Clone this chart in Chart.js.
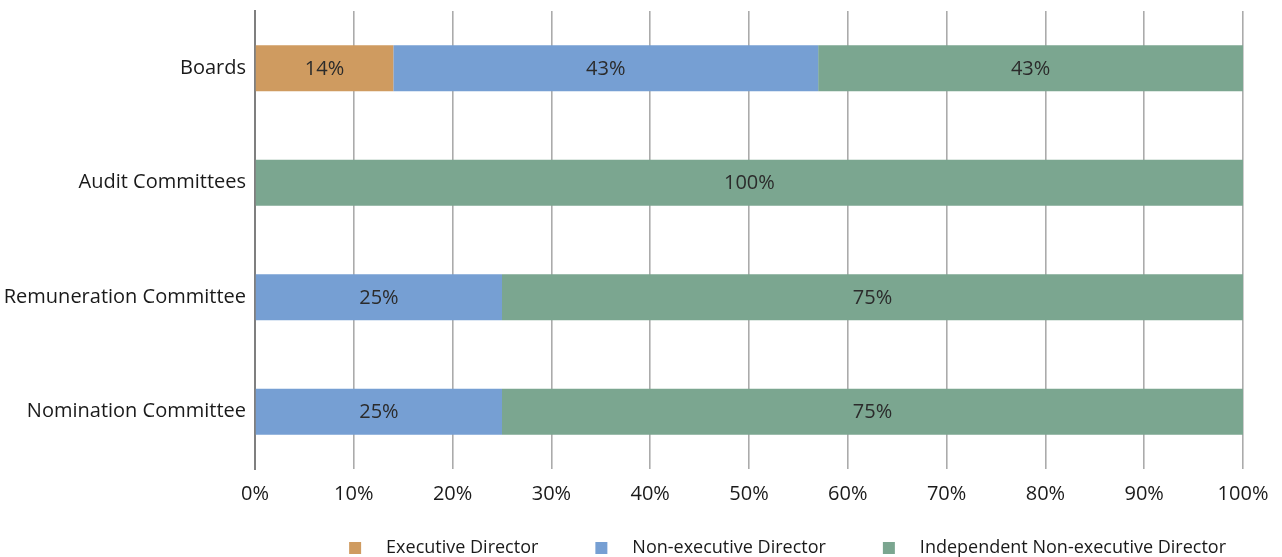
<!DOCTYPE html>
<html>
<head>
<meta charset="utf-8">
<script src="https://cdn.jsdelivr.net/npm/chart.js@4"></script>
<style>
  html, body { margin: 0; padding: 0; background: #fff; }
  #wrap { width: 1282px; height: 557px; }
</style>
</head>
<body>
<div id="wrap"><canvas id="myChart"></canvas></div>
<script>
// categories and series (percent of members)
const categories = ['Boards', 'Audit Committees', 'Remuneration Committee', 'Nomination Committee'];
const executiveDirector = [14, 0, 0, 0];
const nonExecutiveDirector = [43, 0, 25, 25];
const independentNonExecutive = [43, 100, 75, 75];
const seriesNames = ['Executive Director', 'Non-executive Director', 'Independent Non-executive Director'];
const seriesColors = ['#CF9B60', '#769FD3', '#7BA690'];

const FONT = "'Open Sans', sans-serif";

// legend marker: blank lead-in, small square, then gap before the text
const MARK_LEAD = 40;
function legendMarker(color) {
    let c = document.createElement('canvas');
    c.width = MARK_LEAD + 28;
    c.height = 12;
    let g = c.getContext('2d');
    g.fillStyle = color;
    g.fillRect(MARK_LEAD, 0, 12, 12);
    return c;
}

// writes the value in the middle of every bar segment
const barLabels = {
    id: 'barLabels',
    afterDatasetsDraw(chart) {
        let ctx = chart.ctx;
        ctx.save();
        ctx.font = "20px " + FONT;
        ctx.fillStyle = '#2b2b2b';
        ctx.textAlign = 'center';
        ctx.textBaseline = 'middle';
        chart.data.datasets.forEach((ds, i) => {
            let meta = chart.getDatasetMeta(i);
            meta.data.forEach((bar, j) => {
                let v = ds.data[j];
                if (!v) return;
                let p = bar.getProps(['x', 'y', 'base'], true);
                ctx.fillText(v + '%', (p.x + p.base) / 2, p.y + 1);
            });
        });
        ctx.restore();
    }
};

let ctx = document.getElementById('myChart');

let data = {
    labels: categories,
    datasets: [
        { label: seriesNames[0], data: executiveDirector, backgroundColor: seriesColors[0] },
        { label: seriesNames[1], data: nonExecutiveDirector, backgroundColor: seriesColors[1] },
        { label: seriesNames[2], data: independentNonExecutive, backgroundColor: seriesColors[2] }
    ]
};

let myChart = new Chart(ctx, {
    type: 'bar',
    data: data,
    plugins: [barLabels],
    options: {
        indexAxis: 'y',
        responsive: true,
        maintainAspectRatio: false,
        animation: false,
        categoryPercentage: 1,
        barPercentage: 0.4,
        layout: { padding: { top: 11, right: 39, left: 0, bottom: -10 } },
        scales: {
            x: {
                stacked: true,
                min: 0,
                max: 100,
                ticks: {
                    stepSize: 10,
                    padding: 13,
                    color: '#1a1a1a',
                    font: { family: FONT, size: 20 },
                    callback: v => v + '%'
                },
                grid: { color: '#ababab', lineWidth: 1.6, drawTicks: false },
                border: { display: false },
                afterFit: s => { s.height = 53; }
            },
            y: {
                stacked: true,
                ticks: {
                    padding: 9,
                    color: '#1a1a1a',
                    font: { family: FONT, size: 20 }
                },
                grid: { display: false, drawTicks: false },
                border: { display: true, color: '#7f7f7f', width: 2 },
                afterFit: s => {
                    s.width = 255;
                    s.paddingTop = 0;
                    s.paddingBottom = 0;
                }
            }
        },
        plugins: {
            tooltip: { enabled: false },
            legend: {
                position: 'bottom',
                align: 'end',
                fullSize: false,
                labels: {
                    usePointStyle: true,
                    pointStyleWidth: MARK_LEAD + 28,
                    boxHeight: 12,
                    padding: 17,
                    color: '#1a1a1a',
                    font: { family: FONT, size: 18 },
                    generateLabels: chart => chart.data.datasets.map((ds, i) => ({
                        text: ds.label,
                        pointStyle: legendMarker(ds.backgroundColor),
                        fillStyle: ds.backgroundColor,
                        strokeStyle: 'transparent',
                        lineWidth: 0,
                        datasetIndex: i,
                        fontColor: '#1a1a1a'
                    }))
                }
            }
        }
    }
});
</script>
</body>
</html>
